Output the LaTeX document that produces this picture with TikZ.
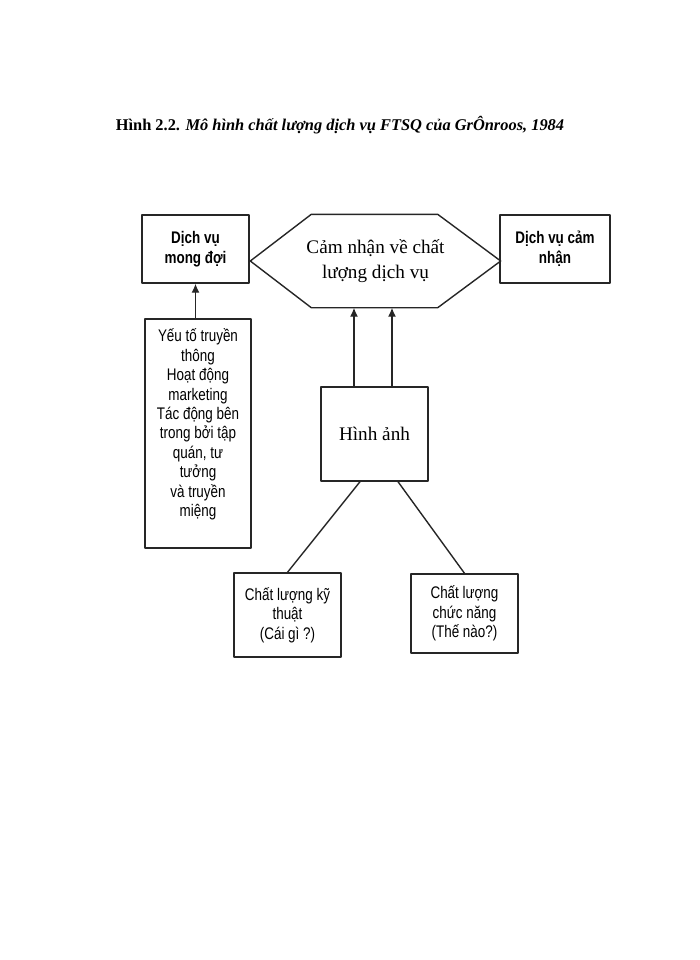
\documentclass[tikz,border=0pt]{standalone}
\usepackage{fontspec}
\setmainfont{Liberation Serif}
\newfontfamily\narrowsf[FakeStretch=0.8]{Liberation Sans}
\usetikzlibrary{positioning,arrows.meta}
\begin{document}
\begin{tikzpicture}[x=0.5pt,y=-0.5pt,line join=round,>={Latex[length=4.5pt,width=4pt]},line width=0.7pt,draw=black!85]
				\tikzset{every node/.style={inner sep=0pt},
					box/.style={draw,align=center,font=\narrowsf\fontsize{8.4}{9.7}\selectfont},
					bbox/.style={box,font=\narrowsf\bfseries\fontsize{8.4}{10.2}\selectfont},
					serif/.style={align=center,font=\fontsize{9.6}{12.5}\selectfont}}
				\useasboundingbox (0,0) rectangle (700,960);
				\node[font=\bfseries\fontsize{8.2}{10}\selectfont] (title) at (340,125) {Hình 2.2. \textit{Mô hình chất lượng dịch vụ FTSQ của GrÔnroos, 1984}};
				\node[bbox,minimum width=53.5pt,minimum height=34pt] (mongdoi) at (195.5,249) {Dịch vụ\\mong đợi};
				\node[bbox,minimum width=55pt,minimum height=34pt] (camnhan) at (555,249) {Dịch vụ cảm\\nhận};
				\node[serif,minimum width=124.5pt,minimum height=46pt] (chatluong) at (375.5,261) {Cảm nhận về chất\\lượng dịch vụ};
				\draw (chatluong.west)--([xshift=30.5pt]chatluong.north west)--([xshift=-31.5pt]chatluong.north east)--(chatluong.east)--([xshift=-31.5pt]chatluong.south east)--([xshift=30.5pt]chatluong.south west)--cycle;
				\node[draw,minimum width=53pt,minimum height=114.5pt] (tall) at (198,433.5) {};
				\node[box,draw=none,below=5pt of tall.north] (talltxt) {Yếu tố truyền\\thông\\Hoạt động\\marketing\\Tác động bên\\trong bởi tập\\quán, tư\\tưởng\\và truyền\\miệng};
				\node[draw,serif,minimum width=53.5pt,minimum height=47pt] (hinh) at (374.5,434) {Hình ảnh};
				\node[box,minimum width=53.5pt,minimum height=42pt] (kythuat) at (287.5,615) {Chất lượng kỹ\\thuật\\(Cái gì ?)};
				\node[box,minimum width=53.5pt,minimum height=39.5pt] (chucnang) at (464.5,613.5) {Chất lượng\\chức năng\\(Thế nào?)};
				\draw[->] (mongdoi.south |- tall.north)--(mongdoi.south);
				\draw[->] ([xshift=-10.25pt]hinh.north)--([xshift=-10.25pt]hinh.north |- chatluong.south);
				\draw[->] ([xshift=8.75pt]hinh.north)--([xshift=8.75pt]hinh.north |- chatluong.south);
				\draw ([xshift=-7.25pt]hinh.south)--(kythuat.north);
				\draw ([xshift=11.75pt]hinh.south)--(chucnang.north);
				\end{tikzpicture}
\end{document}
